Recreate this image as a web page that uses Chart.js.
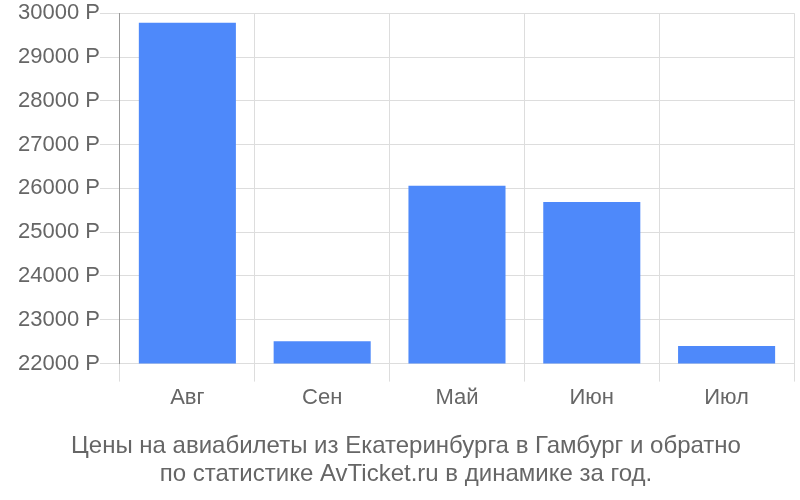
<!DOCTYPE html>
<html>
<head>
<meta charset="utf-8">
<script src="https://cdn.jsdelivr.net/npm/chart.js@4"></script>
<style>
    html, body { margin: 0; padding: 0; background: #fff; }
    #wrap { width: 800px; height: 500px; }
</style>
</head>
<body>
<div id="wrap"><canvas id="priceChart" width="800" height="500"></canvas></div>
<script>
// Цены по месяцам
const months = ['Авг', 'Сен', 'Май', 'Июн', 'Июл'];
const prices = [29780, 22510, 26060, 25690, 22400];
const yMin = 22000;
const yMax = 30000;
const yStep = 1000;
const titleLines = [
    'Цены на авиабилеты из Екатеринбурга в Гамбург и обратно',
    'по статистике AvTicket.ru в динамике за год.'
];

const textColor = '#666666';
const gridColor = '#dddddd';
const barColor = '#4e89fa';

Chart.defaults.font.family = '"Liberation Sans", Arial, sans-serif';

new Chart(document.getElementById('priceChart'), {
    type: 'bar',
    data: {
        labels: months,
        datasets: [{
            data: prices,
            backgroundColor: barColor,
            borderWidth: 0
        }]
    },
    options: {
        responsive: false,
        animation: false,
        layout: {
            padding: { top: 5, right: 6, left: 18, bottom: 12 }
        },
        plugins: {
            legend: { display: false },
            tooltip: { enabled: false },
            title: {
                display: true,
                position: 'bottom',
                text: titleLines,
                color: textColor,
                font: { size: 24, weight: 'normal', lineHeight: 28 / 24 },
                padding: { top: 18, bottom: 0 }
            }
        },
        scales: {
            y: {
                min: yMin,
                max: yMax,
                ticks: {
                    stepSize: yStep,
                    color: textColor,
                    font: { size: 22 },
                    padding: 0,
                    callback: (v) => v + ' Р'
                },
                grid: { color: gridColor, tickLength: 20 },
                border: { color: '#999999' }
            },
            x: {
                ticks: {
                    color: textColor,
                    font: { size: 22 },
                    padding: 3
                },
                grid: { color: gridColor, tickLength: 18 },
                border: { display: false }
            }
        }
    }
});
</script>
</body>
</html>
